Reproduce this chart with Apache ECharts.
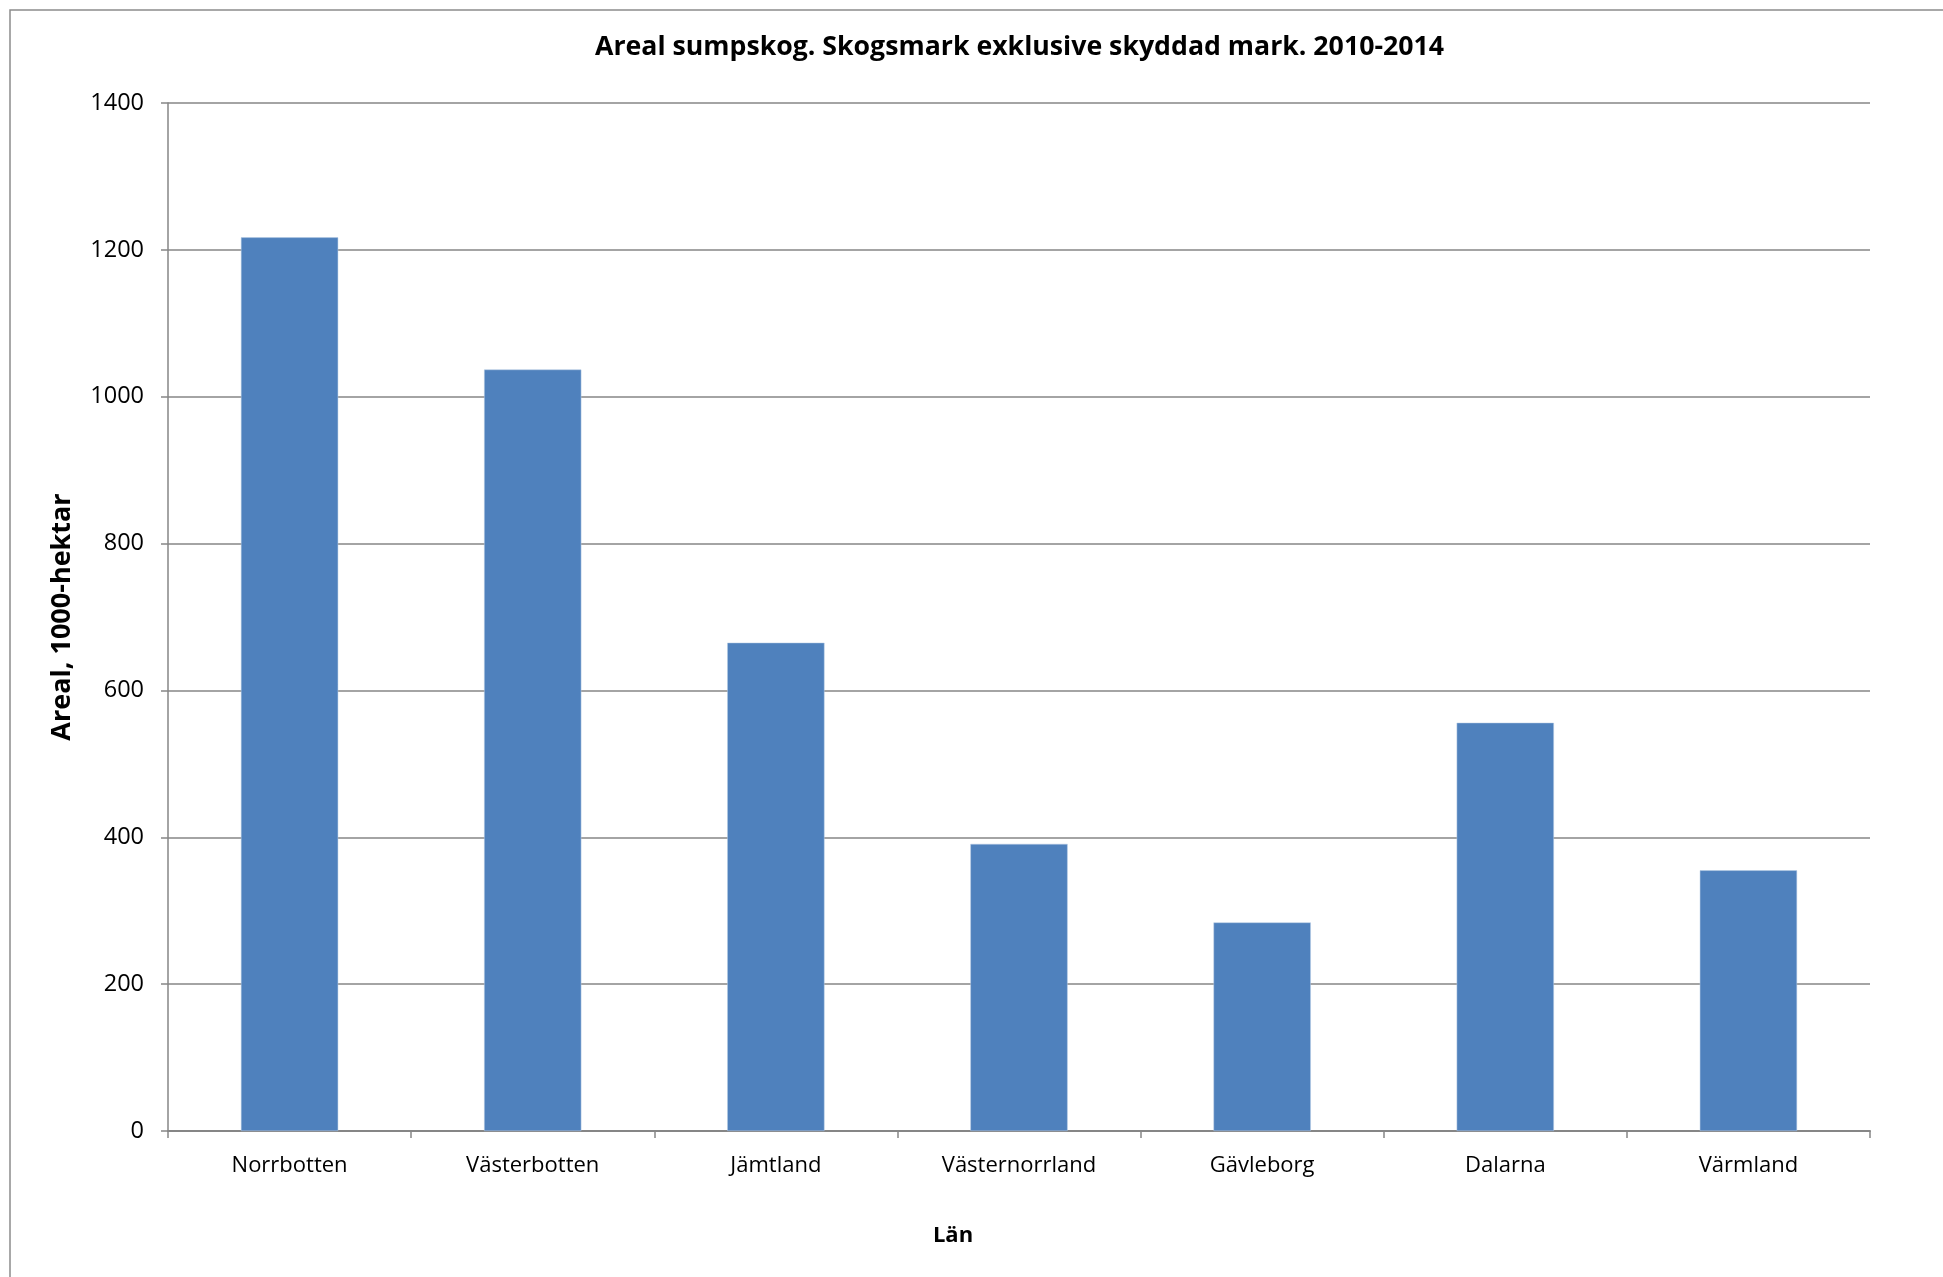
<!DOCTYPE html>
<html>
<head>
<meta charset="utf-8">
<script src="https://cdn.jsdelivr.net/npm/echarts@6/dist/echarts.min.js"></script>
<style>
html,body{margin:0;padding:0;background:#fff;}
#chart{width:1943px;height:1277px;}
</style>
</head>
<body>
<div id="chart"></div>
<script>
const categories = ["Norrbotten", "Västerbotten", "Jämtland", "Västernorrland", "Gävleborg", "Dalarna", "Värmland"];
const values = [1217, 1037, 665, 391, 284, 556, 355];
const titleText = "Areal sumpskog. Skogsmark exklusive skyddad mark. 2010-2014";
const xName = "Län";
const yName = "Areal, 1000-hektar";

const chart = echarts.init(document.getElementById('chart'), null, {renderer: 'canvas'});
const fontFam = '"Liberation Sans Narrow", "Open Sans", sans-serif';
chart.setOption({
  backgroundColor: '#ffffff',
  animation: false,
  graphic: [{
    type: 'rect',
    shape: {x: 10, y: 10, width: 2100, height: 1400},
    style: {fill: 'none', stroke: '#8c8c8c', lineWidth: 1.5},
    silent: true
  }],
  title: {
    text: titleText,
    left: 590,
    top: 29,
    textStyle: {fontFamily: fontFam, fontWeight: 'bold', fontSize: 26.7, color: '#000'}
  },
  grid: {left: 168, right: 73, top: 103, bottom: 146, containLabel: false},
  xAxis: {
    type: 'category',
    data: categories,
    name: xName,
    nameLocation: 'middle',
    nameGap: 94,
    nameTextStyle: {fontFamily: fontFam, fontWeight: 'bold', fontSize: 22, color: '#000', padding: [0, 132, 0, 0]},
    axisLine: {lineStyle: {color: '#868686', width: 2}},
    axisTick: {show: true, alignWithLabel: false, length: 7, lineStyle: {color: '#868686', width: 1.5}},
    axisLabel: {fontFamily: fontFam, fontSize: 22, color: '#000', margin: 24}
  },
  yAxis: {
    type: 'value',
    min: 0,
    max: 1400,
    interval: 200,
    name: yName,
    nameLocation: 'middle',
    nameGap: 92,
    nameRotate: 90,
    nameTextStyle: {fontFamily: fontFam, fontWeight: 'bold', fontSize: 27, color: '#000'},
    axisLine: {show: true, lineStyle: {color: '#868686', width: 1.5}},
    axisTick: {show: true, inside: false, length: 7, lineStyle: {color: '#868686', width: 1.5}},
    axisLabel: {fontFamily: fontFam, fontSize: 23.5, color: '#000', margin: 24, formatter: function (v) { return String(v); }},
    splitLine: {show: true, lineStyle: {color: '#868686', width: 1.5}}
  },
  series: [{
    type: 'bar',
    data: values,
    barCategoryGap: '60%',
    itemStyle: {color: '#4F81BD', borderColor: '#b9cde5', borderWidth: 0.5}
  }]
});
</script>
</body>
</html>
